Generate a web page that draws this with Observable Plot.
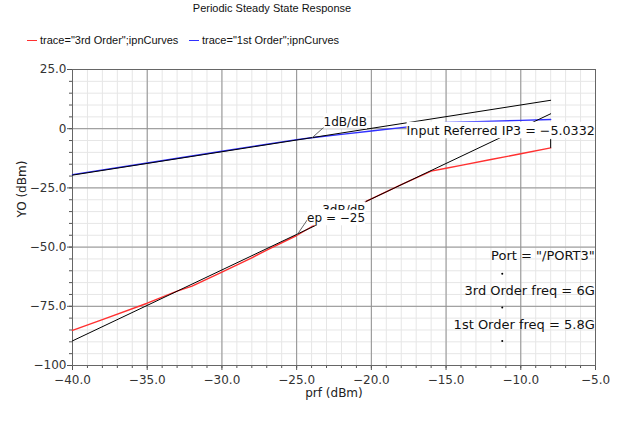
<!DOCTYPE html>
<html>
<head>
<meta charset="utf-8">
<script src="https://cdn.jsdelivr.net/npm/d3@7"></script>
<script src="https://cdn.jsdelivr.net/npm/@observablehq/plot@0.6"></script>
<style>
  body { margin: 0; background: #fff; }
  #wrap { position: relative; width: 625px; height: 423px; overflow: hidden; font-family: "Liberation Sans", Arial, sans-serif; color: #111; }
  #title { position: absolute; left: 0; width: 544px; top: 1px; text-align: center; font-size: 11px; line-height: 14px; }
  .leg { position: absolute; top: 33px; height: 14px; line-height: 14px; font-size: 11px; white-space: nowrap; }
  .sw { display: inline-block; width: 10px; height: 0; border-top: 1.5px solid; vertical-align: middle; margin-right: 3px; position: relative; top: -1px; }
  #chart { position: absolute; left: 0; top: 55px; }
</style>
</head>
<body>
<div id="wrap">
  <div id="title"></div>
  <div id="legend"></div>
  <div id="chart"></div>
</div>
<script>
// ---- data ----
const titleText = "Periodic Steady State Response";
const seriesNames = ['trace="3rd Order";ipnCurves', 'trace="1st Order";ipnCurves'];
const seriesColors = ["#ff3030", "#3030ff"];

// 3rd order response (red)
const prf3 = [-40, -38, -35, -33, -32, -30, -28, -27, -25, -24, -22, -20, -18, -16, -15, -14, -12, -10, -8];
const out3 = [-85.2, -80.6, -73.7, -68.6, -66.5, -60.6, -54.5, -51.3, -45.1, -41.4, -35.6, -29.6, -23.6, -17.9, -16.7, -15.5, -13.0, -10.6, -8.1];

// 1st order response (blue)
const prf1 = [-40, -35, -30, -25, -24, -22, -20, -18, -16, -15, -13, -10, -8];
const out1 = [-19.4, -14.5, -9.5, -4.6, -3.8, -2.4, -1.0, 0.45, 1.9, 2.6, 3.0, 3.5, 3.9];

// extrapolation lines (black)
const extX = [-40, -8];
const ext1 = [-19.6, 12.0];
const ext3 = [-89.6, 6.3];

// axes
const xTicks = [-40, -35, -30, -25, -20, -15, -10, -5];
const xTickLabels = ["\u221240.0", "\u221235.0", "\u221230.0", "\u221225.0", "\u221220.0", "\u221215.0", "\u221210.0", "\u22125.0"];
const yTicks = [25, 0, -25, -50, -75, -100];
const yTickLabels = ["25.0", "0", "\u221225.0", "\u221250.0", "\u221275.0", "\u2212100"];
const xLabel = "prf (dBm)";
const yLabel = "YO (dBm)";

// annotations
const labelText = ["1dB/dB", "Input Referred IP3 = \u22125.0332", "3dB/dB", "ep = \u221225"];
const labelX = [-23.2, -17.64, -23.29, -24.3];
const labelY = [2.9, -1.06, -34.3, -37.9];
const labelSize = [12, 12.7, 12, 12];

const leaderX1 = [-23.96, -25.0, -8.0];
const leaderY1 = [-3.8, -45.1, -8.1];
const leaderX2 = [-23.18, -24.3, -8.0];
const leaderY2 = [0.6, -38.6, -4.4];
const leaderColor = ["#666", "#666", "#000"];

const noteText = ['Port = "/PORT3"', "3rd Order freq = 6G", "1st Order freq = 5.8G"];
const noteX = -5.05;
const noteY = [-53.8, -68.6, -82.7];
const dotX = -11.24;
const dotY = [-61.3, -75.5, -89.7];

// ---- header ----
document.getElementById("title").textContent = titleText;
const legLeft = [27, 189];
const legend = document.getElementById("legend");
seriesNames.forEach((n, i) => {
  const d = document.createElement("div");
  d.className = "leg";
  d.style.left = legLeft[i] + "px";
  const s = document.createElement("span");
  s.className = "sw";
  s.style.borderTopColor = seriesColors[i];
  d.appendChild(s);
  d.appendChild(document.createTextNode(n));
  legend.appendChild(d);
});

// ---- chart ----
const xMinor = d3.range(-40, -4, 1);
const yMinor = d3.range(-100, 26, 5);
const red = prf3.map((x, i) => ({x, y: out3[i]}));
const blue = prf1.map((x, i) => ({x, y: out1[i]}));
const line1 = extX.map((x, i) => ({x, y: ext1[i]}));
const line3 = extX.map((x, i) => ({x, y: ext3[i]}));
const labels = labelText.map((t, i) => ({t, x: labelX[i], y: labelY[i], s: labelSize[i]}));
const leaders = leaderX1.map((x1, i) => ({x1, y1: leaderY1[i], x2: leaderX2[i], y2: leaderY2[i], c: leaderColor[i]}));
const notes = noteText.map((t, i) => ({t, y: noteY[i]}));

const svg = Plot.plot({
  width: 625,
  height: 368,
  marginLeft: 72,
  marginRight: 30,
  marginTop: 14,
  marginBottom: 58,
  x: {domain: [-40, -5]},
  y: {domain: [-100, 25]},
  style: {fontFamily: "DejaVu Sans", fontSize: "12px", color: "#333", background: "#fff"},
  marks: [
    Plot.ruleX(xMinor, {stroke: "#e6e6e6"}),
    Plot.ruleY(yMinor, {stroke: "#e6e6e6"}),
    Plot.ruleX(xTicks, {stroke: "#909090"}),
    Plot.ruleY(yTicks, {stroke: "#909090"}),
    Plot.axisX(xMinor, {tickSize: 3, tickFormat: () => "", label: null, stroke: "#555"}),
    Plot.axisY(yMinor, {tickSize: 3, tickFormat: () => "", label: null, stroke: "#555"}),
    Plot.axisX(xTicks, {tickSize: 5, tickPadding: 5, tickFormat: d => xTickLabels[xTicks.indexOf(d)], label: null, stroke: "#555"}),
    Plot.axisY(yTicks, {tickSize: 5, tickPadding: 1, tickFormat: d => yTickLabels[yTicks.indexOf(d)], label: null, stroke: "#555"}),
    Plot.frame({stroke: "#666"}),
    Plot.line(red, {x: "x", y: "y", stroke: seriesColors[0], strokeWidth: 1.4}),
    Plot.line(blue, {x: "x", y: "y", stroke: seriesColors[1], strokeWidth: 1.4}),
    Plot.line(line1, {x: "x", y: "y", stroke: "#000", strokeWidth: 1}),
    Plot.line(line3, {x: "x", y: "y", stroke: "#000", strokeWidth: 1}),
    Plot.link(leaders, {x1: "x1", y1: "y1", x2: "x2", y2: "y2", stroke: "c", strokeWidth: 1}),
    Plot.text(labels, {x: "x", y: "y", text: "t", fontSize: "s", textAnchor: "start", fill: "#111", className: "boxed"}),
    Plot.text(notes, {x: () => noteX, y: "y", text: "t", fontSize: 13, textAnchor: "end", fill: "#111"}),
    Plot.dot(dotY, {x: () => dotX, y: d => d, r: 1, fill: "#000", stroke: null}),
    Plot.text([xLabel], {frameAnchor: "bottom", dy: 31, text: d => d, fill: "#222"}),
    Plot.text([yLabel], {frameAnchor: "left", dx: -50, rotate: -90, text: d => d, fill: "#222"})
  ]
});
document.getElementById("chart").appendChild(svg);

// white boxes behind the annotation labels
const NS = "http://www.w3.org/2000/svg";
svg.querySelectorAll("g.boxed text").forEach(t => {
  const b = t.getBBox();
  const r = document.createElementNS(NS, "rect");
  r.setAttribute("x", b.x);
  r.setAttribute("y", b.y - 1.5);
  r.setAttribute("width", b.width);
  r.setAttribute("height", b.height + 1.5);
  r.setAttribute("fill", "#fff");
  const tr = t.getAttribute("transform");
  if (tr) r.setAttribute("transform", tr);
  t.parentNode.insertBefore(r, t);
});
</script>
</body>
</html>
